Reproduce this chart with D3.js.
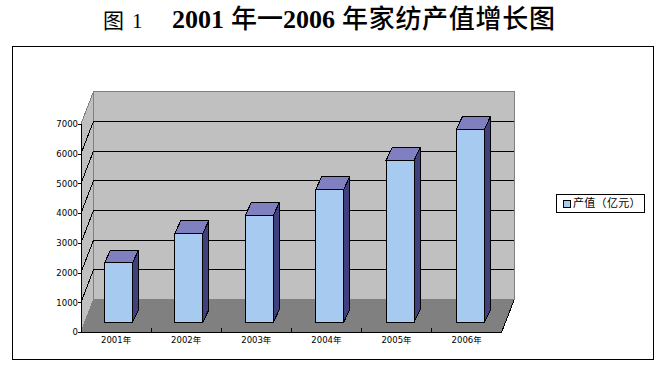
<!DOCTYPE html>
<html>
<head>
<meta charset="utf-8">
<script src="https://cdn.jsdelivr.net/npm/d3@7"></script>
<style>
body { margin: 0; background: #fff; }
text { fill: #000; }
.crisp { shape-rendering: crispEdges; }
</style>
</head>
<body>
<div id="chart"></div>
<script>
var years = ['2001年', '2002年', '2003年', '2004年', '2005年', '2006年'];
var output = [2000, 3000, 3600, 4470, 5450, 6500];
var yTicks = [0, 1000, 2000, 3000, 4000, 5000, 6000, 7000];
var legendLabel = '产值（亿元）';

var WIDTH = 668, HEIGHT = 368;
// how far the back wall sits from the front edge of the floor
var wallDx = 12.5, wallDy = 32.4;
var barDx = 6, barDy = 12.7;
var barOffsetY = 9.7, barWidth = 28;

var SERIF = '"Liberation Serif","Noto Sans CJK SC",serif';
var LABEL = '"DejaVu Sans","Noto Sans CJK SC",sans-serif';

var x = d3.scaleBand().domain(years).range([81, 501.7]);
// bars are pushed back into the floor, so they get their own centres
var xBar = d3.scalePoint().domain(years).range([118.5, 470.5]);
var y = d3.scaleLinear().domain([0, 7000]).range([332, 124]);

var svg = d3.select('#chart').append('svg')
  .attr('width', WIDTH)
  .attr('height', HEIGHT)
  .style('display', 'block');

var title = svg.append('g').attr('font-family', SERIF);
var fig = title.append('text').attr('x', 103).attr('y', 28).attr('font-size', 21);
fig.append('tspan').text('图');
fig.append('tspan').attr('x', 132).text('1');
var main = title.append('text').attr('x', 172).attr('y', 28).attr('font-size', 26).attr('font-weight', 500);
main.append('tspan').attr('font-weight', 'bold').text('2001');
main.append('tspan').attr('dx', 7).text('年一');
main.append('tspan').attr('font-weight', 'bold').text('2006');
main.append('tspan').attr('dx', 7).attr('letter-spacing', 0.7).text('年家纺产值增长图');

svg.append('rect').attr('class', 'crisp')
  .attr('x', 12.5).attr('y', 46.5).attr('width', 640.5).attr('height', 313)
  .attr('fill', '#fff').attr('stroke', '#000').attr('stroke-width', 1);

var left = x.range()[0], right = x.range()[1];
var base = y(0), top7 = y(7000);

var poly = function (pts, fill, stroke) {
  return svg.append('polygon').attr('class', 'crisp')
    .attr('points', pts.join(' '))
    .attr('fill', fill)
    .attr('stroke', stroke || 'none');
};

// walls and floor
poly([[left, top7], [left + wallDx, top7 - wallDy], [left + wallDx, base - wallDy], [left, base]], '#c0c0c0', '#808080');
poly([[left + wallDx, top7 - wallDy], [right + wallDx, top7 - wallDy], [right + wallDx, base - wallDy], [left + wallDx, base - wallDy]], '#c0c0c0', '#808080');
poly([[left, base], [left + wallDx, base - wallDy], [right + wallDx, base - wallDy], [right, base]], '#808080');

// gridlines run round the side wall and along the back
svg.append('g').selectAll('path')
  .data(yTicks.slice(1, -1))
  .enter().append('path')
  .attr('class', 'crisp')
  .attr('fill', 'none')
  .attr('stroke', '#000')
  .attr('d', function (d) {
    return 'M' + left + ',' + y(d) + 'L' + (left + wallDx) + ',' + (y(d) - wallDy) + 'L' + (right + wallDx) + ',' + (y(d) - wallDy);
  });

svg.append('path').attr('class', 'crisp').attr('fill', 'none').attr('stroke', '#000')
  .attr('d', 'M' + right + ',' + base + 'L' + (right + wallDx) + ',' + (base - wallDy));

// bars
var bars = svg.append('g').selectAll('g')
  .data(output)
  .enter().append('g')
  .attr('class', 'crisp')
  .attr('stroke', '#000');

var barLeft = function (d, i) { return xBar(years[i]) - barWidth / 2; };
var barTop = function (d) { return y(d) - barOffsetY; };
var barBase = base - barOffsetY;

bars.append('polygon')
  .attr('fill', '#40407f')
  .attr('points', function (d, i) {
    var r = barLeft(d, i) + barWidth, t = barTop(d);
    return [[r, t], [r + barDx, t - barDy], [r + barDx, barBase - barDy], [r, barBase]].join(' ');
  });

bars.append('polygon')
  .attr('fill', '#8080c0')
  .attr('points', function (d, i) {
    var l = barLeft(d, i), t = barTop(d);
    return [[l, t], [l + barDx, t - barDy], [l + barWidth + barDx, t - barDy], [l + barWidth, t]].join(' ');
  });

bars.append('rect')
  .attr('fill', '#a6caf0')
  .attr('x', barLeft)
  .attr('y', barTop)
  .attr('width', barWidth)
  .attr('height', function (d) { return barBase - barTop(d); });

// axes
var yAxis = d3.axisLeft(y).tickValues(yTicks).tickFormat(d3.format('d')).tickSize(3).tickPadding(0);
var xAxis = d3.axisBottom(x).tickSize(0).tickPadding(5);

var gy = svg.append('g').attr('class', 'crisp').attr('transform', 'translate(' + left + ',0)').call(yAxis);
var gx = svg.append('g').attr('class', 'crisp').attr('transform', 'translate(0,' + base + ')').call(xAxis);

gx.append('g').selectAll('line')
  .data(years.slice(1))
  .enter().append('line')
  .attr('stroke', '#000')
  .attr('x1', function (d) { return x(d); })
  .attr('x2', function (d) { return x(d); })
  .attr('y1', 0)
  .attr('y2', -4);

svg.selectAll('.tick text')
  .attr('font-family', LABEL)
  .attr('font-size', 8.5)
  .attr('fill', '#000');

// legend
var legend = svg.append('g');
legend.append('rect').attr('class', 'crisp')
  .attr('x', 556.5).attr('y', 194.5).attr('width', 88).attr('height', 18)
  .attr('fill', '#fff').attr('stroke', '#000');
legend.append('rect').attr('class', 'crisp')
  .attr('x', 563.5).attr('y', 200.5).attr('width', 7).attr('height', 7)
  .attr('fill', '#a6caf0').attr('stroke', '#000');
legend.append('text')
  .attr('x', 573).attr('y', 207)
  .attr('font-family', LABEL).attr('font-size', 11).attr('letter-spacing', 0.3)
  .text(legendLabel);
</script>
</body>
</html>
